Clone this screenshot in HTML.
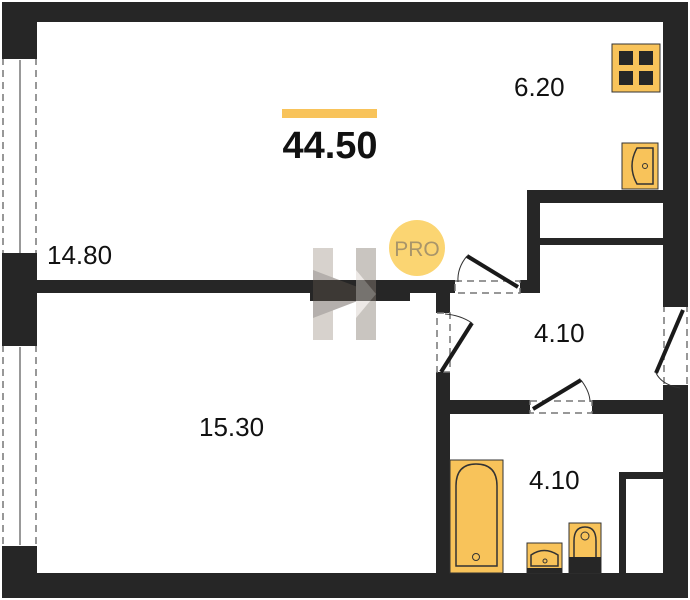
<!DOCTYPE html>
<html><head><style>body{margin:0;background:#fff}svg{display:block}</style></head><body>
<svg width="690" height="600" viewBox="0 0 690 600" xmlns="http://www.w3.org/2000/svg" font-family="Liberation Sans, sans-serif">
<rect width="690" height="600" fill="#fff"/>
<g fill="#262626">
<rect x="2" y="2" width="686" height="20"/>
<rect x="2" y="2" width="35" height="56"/>
<rect x="2" y="255" width="35" height="90"/>
<rect x="2" y="547" width="35" height="51"/>
<rect x="2" y="573" width="686" height="25"/>
<rect x="663" y="2" width="25" height="303"/>
<rect x="663" y="387" width="25" height="211"/>
<rect x="37" y="280" width="418" height="13"/>
<rect x="310" y="293" width="100" height="8"/>
<rect x="436" y="280" width="14" height="33"/>
<rect x="520" y="280" width="20" height="13"/>
<rect x="527" y="190" width="13" height="103"/>
<rect x="527" y="190" width="136" height="13"/>
<rect x="540" y="238" width="123" height="7"/>
<rect x="436" y="372" width="14" height="201"/>
<rect x="450" y="400" width="80" height="14"/>
<rect x="592" y="400" width="71" height="14"/>
<rect x="619" y="472" width="7" height="101"/>
<rect x="619" y="472" width="44" height="7"/>
</g>
<g stroke="#777" stroke-dasharray="7,5" fill="none" stroke-width="1.5">
<line x1="3" y1="58" x2="3" y2="255"/><line x1="36" y1="58" x2="36" y2="255"/>
<line x1="3" y1="345" x2="3" y2="547"/><line x1="36" y1="345" x2="36" y2="547"/>
<rect x="455" y="281" width="65" height="12"/>
<rect x="437" y="313" width="13" height="59"/>
<rect x="530" y="401" width="62" height="12"/>
<line x1="664" y1="305" x2="664" y2="387"/><line x1="687" y1="305" x2="687" y2="387"/>
</g>
<g stroke="#333" stroke-width="1"><line x1="20" y1="60" x2="20" y2="253"/><line x1="20" y1="347" x2="20" y2="545"/></g>
<g fill="#262626">
<rect x="2" y="56" width="35" height="3"/><rect x="2" y="253" width="35" height="3"/>
<rect x="2" y="343" width="35" height="3"/><rect x="2" y="546" width="35" height="3"/>
<rect x="663" y="304" width="25" height="3"/><rect x="663" y="385" width="25" height="3"/>
</g>
<g stroke="#1a1a1a" stroke-width="4" fill="none">
<line x1="467" y1="256" x2="518" y2="287"/>
<line x1="441" y1="372" x2="472" y2="323"/>
<line x1="533" y1="409" x2="581" y2="380"/>
<line x1="683" y1="310" x2="656" y2="373"/>
</g>
<g stroke="#333" stroke-width="1" fill="none">
<path d="M467 256 Q457 268 458 282"/>
<path d="M472 323 Q460 315 445 314"/>
<path d="M581 380 Q590 392 590 402"/>
<path d="M656 373 Q662 385 680 388"/>
</g>
<rect x="612" y="44" width="48" height="48" fill="#f8c35a" stroke="#333" stroke-width="1"/>
<g fill="#262626"><rect x="619" y="51" width="14" height="14"/><rect x="639" y="51" width="14" height="14"/><rect x="619" y="71" width="14" height="14"/><rect x="639" y="71" width="14" height="14"/></g>
<rect x="622" y="143" width="36" height="46" fill="#f8c35a" stroke="#333" stroke-width="1"/>
<path d="M653 148 H637 Q627 166 637 184 H653 Z" fill="none" stroke="#333" stroke-width="1.5"/>
<circle cx="645" cy="166" r="2.5" fill="none" stroke="#333"/>
<rect x="450" y="460" width="53" height="113" fill="#f8c35a" stroke="#333" stroke-width="1"/>
<path d="M456 566 V486 Q456 464 476 464 Q497 464 497 486 V566 Z" fill="none" stroke="#333" stroke-width="1.5"/>
<circle cx="476" cy="557" r="3.5" fill="none" stroke="#333"/>
<rect x="527" y="543" width="35" height="30" fill="#f8c35a" stroke="#333" stroke-width="1"/>
<rect x="527" y="568" width="35" height="5" fill="#262626"/>
<path d="M531 566 V555 Q544 546 558 555 V566 Z" fill="none" stroke="#333" stroke-width="1.5"/>
<circle cx="545" cy="561" r="2" fill="none" stroke="#333"/>
<rect x="569" y="523" width="32" height="50" fill="#f8c35a" stroke="#333" stroke-width="1"/>
<rect x="569" y="557" width="32" height="16" fill="#262626"/>
<path d="M574 557 V541 Q574 527 585 527 Q596 527 596 541 V557" fill="none" stroke="#333" stroke-width="1.5"/>
<circle cx="585" cy="536" r="4" fill="none" stroke="#333"/>
<g opacity="0.45">
<rect x="313" y="248" width="20" height="92" fill="#a79d92"/>
<rect x="356" y="248" width="20" height="92" fill="#8a8076"/>
<polygon points="313,270 376,294 313,318" fill="#5a5048"/>
<polygon points="356,270 376,294 356,318" fill="#d8d0c8"/>
</g>
<circle cx="417" cy="248" r="28" fill="#fbd572"/>
<text x="417" y="256" font-size="21" fill="#a8956a" text-anchor="middle">PRO</text>
<rect x="282" y="109" width="95" height="9" fill="#f8c35a"/>
<text x="330" y="158" font-size="38" font-weight="bold" fill="#111" text-anchor="middle">44.50</text>
<g font-size="26" fill="#111">
<text x="514" y="96">6.20</text>
<text x="47" y="264">14.80</text>
<text x="199" y="436">15.30</text>
<text x="534" y="342">4.10</text>
<text x="529" y="489">4.10</text>
</g>
</svg>
</body></html>
